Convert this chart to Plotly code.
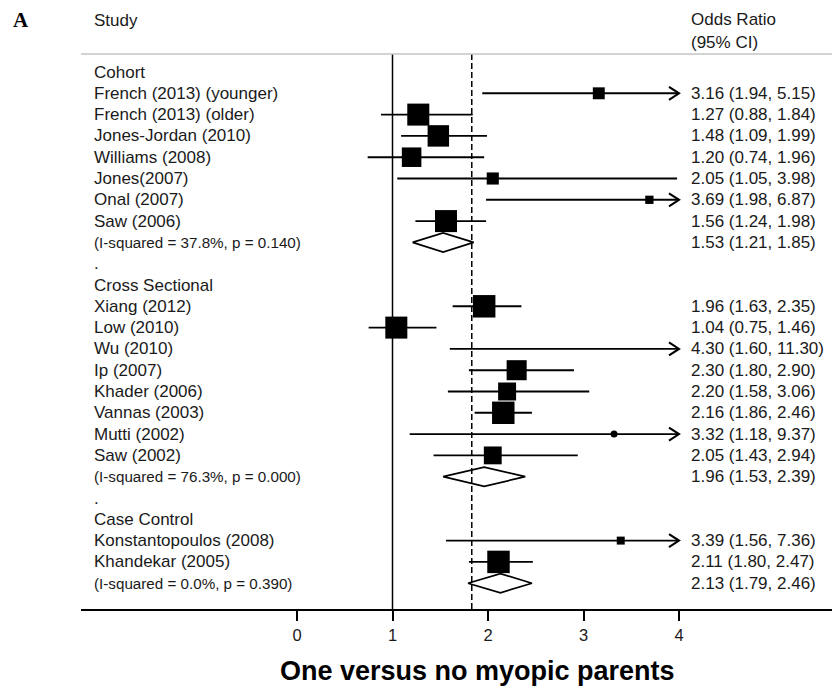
import plotly.graph_objects as go

# ---------------- data ----------------
group_names = ["Cohort", "Cross Sectional", "Case Control"]

cohort_studies = ["French (2013) (younger)", "French (2013) (older)", "Jones-Jordan (2010)",
                  "Williams (2008)", "Jones(2007)", "Onal (2007)", "Saw (2006)"]
cohort_or = [3.16, 1.27, 1.48, 1.20, 2.05, 3.69, 1.56]
cohort_lo = [1.94, 0.88, 1.09, 0.74, 1.05, 1.98, 1.24]
cohort_hi = [5.15, 1.84, 1.99, 1.96, 3.98, 6.87, 1.98]
cohort_wt = [2.9, 9.9, 9.4, 7.8, 3.0, 1.4, 9.9]
cohort_pooled = [1.53, 1.21, 1.85]
cohort_het = "(I-squared = 37.8%, p = 0.140)"

cross_studies = ["Xiang (2012)", "Low (2010)", "Wu (2010)", "Ip (2007)", "Khader (2006)",
                 "Vannas (2003)", "Mutti (2002)", "Saw (2002)"]
cross_or = [1.96, 1.04, 4.30, 2.30, 2.20, 2.16, 3.32, 2.05]
cross_lo = [1.63, 0.75, 1.60, 1.80, 1.58, 1.86, 1.18, 1.43]
cross_hi = [2.35, 1.46, 11.30, 2.90, 3.06, 2.46, 9.37, 2.94]
cross_wt = [10.3, 9.9, 1.5, 8.2, 6.6, 10.3, 1.0, 6.5]
cross_pooled = [1.96, 1.53, 2.39]
cross_het = "(I-squared = 76.3%, p = 0.000)"

case_studies = ["Konstantopoulos (2008)", "Khandekar (2005)"]
case_or = [3.39, 2.11]
case_lo = [1.56, 1.80]
case_hi = [7.36, 2.47]
case_wt = [1.3, 10.3]
case_pooled = [2.13, 1.79, 2.46]
case_het = "(I-squared = 0.0%, p = 0.390)"

null_or = 1.0
overall_or = 1.83
axis_ticks = [0, 1, 2, 3, 4]
axis_clip = 4.0
x_title = "One versus no myopic parents"
panel_label = "A"
head_study = "Study"
head_or = ["Odds Ratio", "(95% CI)"]

groups = [
    (group_names[0], cohort_studies, cohort_or, cohort_lo, cohort_hi, cohort_wt, cohort_pooled, cohort_het),
    (group_names[1], cross_studies, cross_or, cross_lo, cross_hi, cross_wt, cross_pooled, cross_het),
    (group_names[2], case_studies, case_or, case_lo, case_hi, case_wt, case_pooled, case_het),
]

# ---------------- layout geometry ----------------
W, H = 832, 686
ML, MR, MT, MB = 81, 0, 54, 77
PX0, PPU = 297.0, 95.5          # pixel of OR=0, pixels per unit
ROW0, ROWH = 72.0, 21.3         # pixel of first row, row height
xmin = (ML - PX0) / PPU
xmax = (W - MR - PX0) / PPU
ytop = (MT - ROW0) / ROWH
ybot = (H - MB - ROW0) / ROWH
PW, PH = W - ML - MR, H - MT - MB

def px_to_paper_x(px):
    return (px - ML) / PW

def py_to_paper_y(py):
    return (H - MB - py) / PH

FONT = "Liberation Sans, Arial, sans-serif"
TXT = "#1a1a1a"
LBL_X = px_to_paper_x(92)
ORT_X = px_to_paper_x(689)

annotations = []
def add_text(xp, row, text, size=17):
    annotations.append(dict(x=xp, y=row, xref="paper", yref="y", text=text, showarrow=False,
                            xanchor="left", yanchor="middle", font=dict(family=FONT, size=size, color=TXT)))

ci_x, ci_y = [], []
arr_x, arr_y = [], []
mk_x, mk_y, mk_s, mk_sym = [], [], [], []
dia_x, dia_y = [], []
ARW_DX = 10.0 / PPU
ARW_DY = 6.5 / ROWH
DIA_H = 0.45

r = 0
for gi, (gname, studies, ors, los, his, wts, pooled, het) in enumerate(groups):
    if gi > 0:
        add_text(LBL_X, r, ".")
        r += 1
    add_text(LBL_X, r, gname)
    r += 1
    for s, o, lo, hi, w in zip(studies, ors, los, his, wts):
        add_text(LBL_X, r, s)
        add_text(ORT_X, r, f"{o:.2f} ({lo:.2f}, {hi:.2f})")
        ci_x += [lo, min(hi, axis_clip), None]
        ci_y += [r, r, None]
        if hi > axis_clip:
            arr_x += [axis_clip - ARW_DX, axis_clip, axis_clip - ARW_DX, None]
            arr_y += [r - ARW_DY, r, r + ARW_DY, None]
        if o <= axis_clip:
            mk_x.append(o)
            mk_y.append(r)
            mk_s.append(7.0 * w ** 0.5)
            mk_sym.append("circle" if w < 1.2 else "square")
        r += 1
    pe, plo, phi = pooled
    add_text(LBL_X, r, het, size=15.2)
    add_text(ORT_X, r, f"{pe:.2f} ({plo:.2f}, {phi:.2f})")
    dia_x += [plo, pe, phi, pe, plo, None]
    dia_y += [r, r - DIA_H, r, r + DIA_H, r, None]
    r += 1

fig = go.Figure()
fig.add_trace(go.Scatter(x=ci_x, y=ci_y, mode="lines", line=dict(color="black", width=1.9),
                         hoverinfo="skip", showlegend=False))
fig.add_trace(go.Scatter(x=arr_x, y=arr_y, mode="lines", line=dict(color="black", width=2.1),
                         hoverinfo="skip", showlegend=False))
fig.add_trace(go.Scatter(x=dia_x, y=dia_y, mode="lines", line=dict(color="black", width=1.7),
                         hoverinfo="skip", showlegend=False))
fig.add_trace(go.Scatter(x=mk_x, y=mk_y, mode="markers", opacity=1,
                         marker=dict(symbol=mk_sym, size=mk_s, color="#000000", opacity=1,
                                     line=dict(width=0)),
                         showlegend=False))

shapes = [
    dict(type="line", xref="x", yref="paper", x0=null_or, x1=null_or, y0=0, y1=1,
         line=dict(color="black", width=1.5), layer="below"),
    dict(type="line", xref="x", yref="paper", x0=overall_or, x1=overall_or, y0=0, y1=1,
         line=dict(color="black", width=1.5, dash="6px,3px"), layer="below"),
    dict(type="line", xref="paper", yref="paper", x0=0, x1=1, y0=1, y1=1,
         line=dict(color="#c4c4c4", width=1.6), layer="below"),
]

annotations += [
    dict(x=px_to_paper_x(11), y=py_to_paper_y(20), xref="paper", yref="paper", text=f"<b>{panel_label}</b>",
         showarrow=False, xanchor="left", yanchor="middle",
         font=dict(family="Liberation Serif, Times New Roman, serif", size=21, color="black")),
    dict(x=LBL_X, y=py_to_paper_y(21), xref="paper", yref="paper", text=head_study, showarrow=False,
         xanchor="left", yanchor="middle", font=dict(family=FONT, size=17, color=TXT)),
    dict(x=ORT_X, y=py_to_paper_y(20), xref="paper", yref="paper", text=head_or[0], showarrow=False,
         xanchor="left", yanchor="middle", font=dict(family=FONT, size=17, color=TXT)),
    dict(x=ORT_X, y=py_to_paper_y(42), xref="paper", yref="paper", text=head_or[1], showarrow=False,
         xanchor="left", yanchor="middle", font=dict(family=FONT, size=17, color=TXT)),
    dict(x=px_to_paper_x(477.5), y=py_to_paper_y(671), xref="paper", yref="paper", text=f"<b>{x_title}</b>",
         showarrow=False, xanchor="center", yanchor="middle",
         font=dict(family=FONT, size=27, color="black")),
]

fig.update_layout(
    width=W, height=H,
    margin=dict(l=ML, r=MR, t=MT, b=MB, pad=0),
    paper_bgcolor="white", plot_bgcolor="white",
    shapes=shapes, annotations=annotations,
    xaxis=dict(range=[xmin, xmax], tickvals=axis_ticks, ticktext=[str(t) for t in axis_ticks],
               showline=True, linecolor="black", linewidth=1.5, ticks="outside", ticklen=10,
               tickwidth=1.5, tickcolor="black", showgrid=False, zeroline=False,
               tickfont=dict(family=FONT, size=16.5, color=TXT), fixedrange=True),
    yaxis=dict(range=[ybot, ytop], visible=False, showgrid=False, zeroline=False, fixedrange=True),
    showlegend=False,
)

fig.write_html("out.html")
